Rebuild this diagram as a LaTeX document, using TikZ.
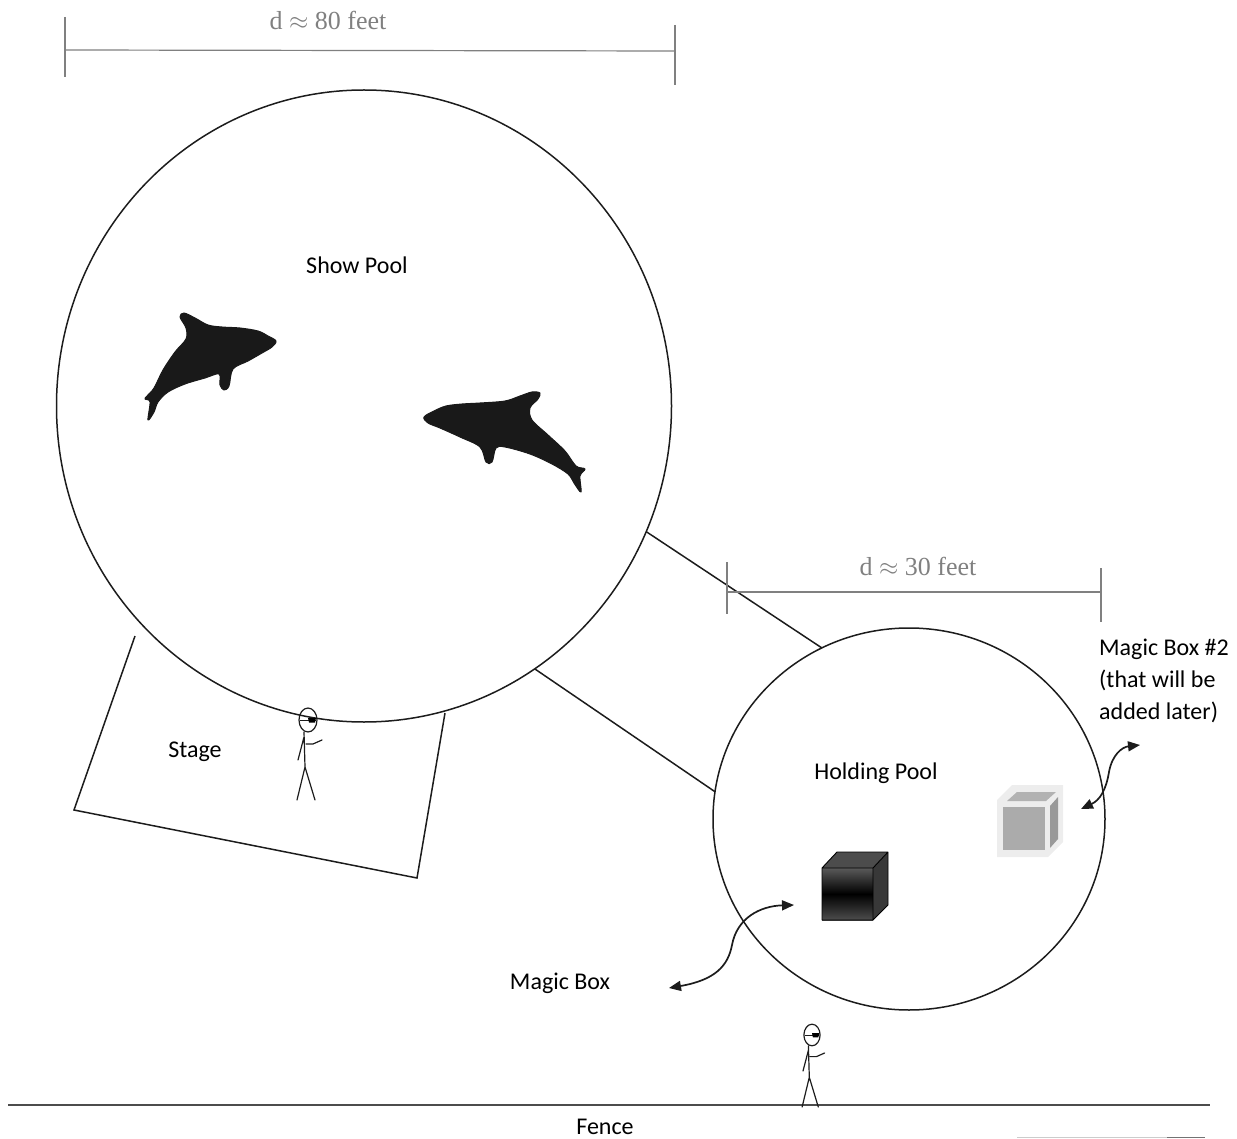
\documentclass[tikz,border=0pt]{standalone}
\usepackage{fontspec}
\setmainfont{Carlito}
\newfontfamily\dimfont{Liberation Serif}
\usetikzlibrary{shapes.geometric,arrows.meta}
\definecolor{dimgray}{HTML}{808080}
\definecolor{lineink}{HTML}{1c1c1c}

\begin{document}
\begin{tikzpicture}[x=1pt,y=-1pt,
  pool/.style={draw=lineink, ellipse, line width=1.5pt, inner sep=0pt, outer sep=0pt},
  txt/.style={font=\fontsize{24}{32}\selectfont, inner sep=0pt},
  dimtext/.style={font=\dimfont\fontsize{26}{30}\selectfont, text=dimgray, inner sep=0pt},
  dimline/.style={draw=dimgray, line width=1.2pt},
  stageline/.style={draw=lineink, line width=1.5pt},
  dbl/.style={draw=lineink, line width=1.7pt,
    {Triangle[length=12pt,width=10pt]}-{Triangle[length=12pt,width=10pt]}},
  dolphin/.style={fill=black!90, draw=black!90, line width=1pt, line join=round},
  stickman/.pic={
    \draw[line width=1.2pt, lineink] (0,0) ellipse [x radius=9pt, y radius=12pt];
    \draw[line width=0.9pt, lineink] (-8,0) -- (8,0);
    \fill[black] (0,-2) -- (8,-2) -- (7,2.5) -- (1,2.5) -- cycle;
    \draw[line width=1.2pt, lineink, line cap=round, line join=round]
      (-4,12) -- (-3,47) -- (-11,80)
      (-3,47) -- (7,80)
      (-4,17) -- (-10,40)
      (-2,24) -- (5,24) -- (14,20);
  }
]
\useasboundingbox (0,0) rectangle (1237,1139);

% ---- overall diameter of the show pool
\coordinate (a1) at (65,50);
\coordinate (a2) at (675,51);
\draw[dimline] (65,17) -- (65,77);
\draw[dimline] (675,25) -- (675,85);
\draw[dimline] (a1) -- (a2);
\node[dimtext] (d80) at (328,20) {d $\approx$ 80 feet};

% ---- pools
\node[pool, minimum width=615pt, minimum height=632pt] (show) at (364,406) {};
\node[pool, minimum width=392pt, minimum height=382pt] (hold) at (909,819) {};
\node[txt] (showlbl) at (357,265) {Show Pool};
\node[txt] (holdlbl) at (876,773) {Holding Pool};

% ---- channel between the pools
\draw[stageline] (show.-24) -- (hold.117);
\draw[stageline] (show.-57) -- (hold.172);

% ---- diameter of the holding pool
\coordinate (b1) at (727,592);
\coordinate (b2) at (1101,592);
\draw[dimline] (727,562) -- (727,614);
\draw[dimline] (1101,568) -- (1101,622);
\draw[dimline] (b1) -- (b2);
\node[dimtext] (d30) at (918,566) {d $\approx$ 30 feet};

% ---- dolphins
\filldraw[dolphin] plot[smooth cycle, tension=0.55] coordinates {
  (276,341) (268,336) (258,331) (240,328) (222,327) (208,325) (195,318)
  (184,313) (180,317) (186,328) (186,339) (175,352) (163,370) (154,388)
  (147,396) (145,399) (150,402) (148,420) (154,412) (158,402) (168,392)
  (185,384) (205,378) (219,374) (220,385) (224,390) (229,386) (233,369)
  (248,361) (262,353) (272,347)};
\filldraw[dolphin] plot[smooth cycle, tension=0.55] coordinates {
  (424,417) (434,411) (446,406) (462,404) (480,403) (505,401) (520,396)
  (532,392) (540,393) (538,399) (530,408) (532,420) (548,435) (565,451)
  (576,466) (585,469) (580,476) (581,492) (574,483) (568,474) (552,464)
  (530,454) (505,447) (496,448) (492,462) (486,462) (480,447) (460,437)
  (440,428) (428,423)};

% ---- stage
\draw[stageline] (135,636) -- (74,810) -- (417,878) -- (445,713);
\node[txt] (stagelbl) at (195,752) {Stage};
\pic at (308,720) {stickman};

% ---- magic box (dark)
\fill[black!70] (822,868) -- (837,852) -- (888,852) -- (873,868) -- cycle;
\fill[black!78] (873,868) -- (888,852) -- (888,905) -- (873,920) -- cycle;
\shade[top color=black!65, bottom color=black!70, middle color=black] (822,868) rectangle (873,920);
\draw[black, line width=0.9pt, line join=round]
  (822,868) -- (837,852) -- (888,852) -- (888,905) -- (873,920) -- (822,920) -- cycle
  (822,868) -- (873,868) -- (888,852) (873,868) -- (873,920);

% ---- magic box #2 (pale)
\fill[black!7] (997,800) -- (1012,785) -- (1063,785) -- (1063,842) -- (1048,857) -- (997,857) -- cycle;
\fill[black!30] (1007,801) -- (1017,792) -- (1056,792) -- (1046,801) -- cycle;
\fill[black!33] (1003,807) rectangle (1045,850);
\fill[black!40] (1050,806) -- (1058,797) -- (1058,839) -- (1050,848) -- cycle;

% ---- labels and pointers
\node[txt] (mblbl) at (560,983) {Magic Box};
\coordinate (mbl) at (669,988);
\coordinate (mbr) at (794,905);
\draw[dbl] (mbl) .. controls (715,980) and (728,966) .. (732,945)
  .. controls (737,918) and (760,906) .. (mbr);

\node[txt, anchor=west, align=left] (mb2lbl) at (1099,681)
  {Magic Box \#2\\(that will be\\added later)};
\coordinate (m2a) at (1081,809);
\coordinate (m2b) at (1140,745);
\draw[dbl] (m2a) .. controls (1100,800) and (1106,790) .. (1109,772)
  .. controls (1112,755) and (1122,747) .. (m2b);

% ---- fence
\coordinate (f1) at (8,1105);
\coordinate (f2) at (1210,1105);
\draw[draw=black!70, line width=1.8pt] (f1) -- (f2);
\node[txt] (fencelbl) at (605,1127) {Fence};
\pic[scale=0.9] at (812,1035) {stickman};

% ---- faint rule, lower right
\draw[black!20, line width=1pt] (1017,1137) -- (1167,1137);
\draw[black!55, line width=1pt] (1167,1137) -- (1205,1137);
\end{tikzpicture}
\end{document}
